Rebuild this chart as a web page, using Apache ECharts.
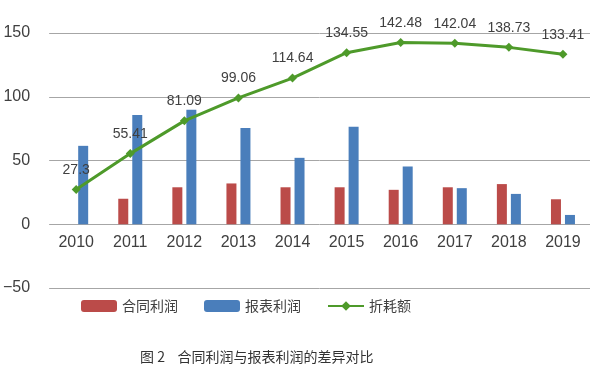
<!DOCTYPE html>
<html>
<head>
<meta charset="utf-8">
<script src="https://cdn.jsdelivr.net/npm/echarts@6/dist/echarts.min.js"></script>
<style>html,body{margin:0;padding:0;background:#fff;}#c{width:600px;height:365px;}</style>
</head>
<body>
<div id="c"></div>
<script>
const categories = ['2010','2011','2012','2013','2014','2015','2016','2017','2018','2019'];
const contractProfit = [0, 20, 29, 32, 29, 29, 27, 29, 31.5, 19.6];
const reportProfit = [61.5, 85.6, 89.8, 75.4, 52.1, 76.4, 45.3, 28.3, 23.8, 7.3];
const depletion = [27.3, 55.41, 81.09, 99.06, 114.64, 134.55, 142.48, 142.04, 138.73, 133.41];
const seriesNames = ['合同利润', '报表利润', '折耗额'];
const titleText = '图 2    合同利润与报表利润的差异对比';

const chart = echarts.init(document.getElementById('c'), null, {renderer: 'canvas'});
const latin = 'Liberation Sans, Arial, sans-serif';
const cjk = '"Noto Sans CJK SC", sans-serif';
chart.setOption({
  animation: false,
  backgroundColor: '#fff',
  title: {
    text: titleText, left: 135, top: 345,
    textStyle: {fontFamily: cjk, fontSize: 14, fontWeight: 'normal', color: '#333'}
  },
  legend: {
    data: seriesNames, left: 76, top: 294,
    itemWidth: 36, itemHeight: 12, itemGap: 26,
    textStyle: {fontFamily: cjk, fontSize: 14, color: '#404040'}
  },
  grid: {left: 49, right: 10, top: 33, bottom: 77},
  xAxis: {
    type: 'category', data: categories,
    position: 'bottom', offset: -64,
    axisLine: {show: false, onZero: false},
    axisTick: {show: false},
    axisLabel: {margin: 11, fontFamily: latin, fontSize: 16, color: '#404040'}
  },
  yAxis: {
    type: 'value', min: -50, max: 150, interval: 50,
    axisLine: {show: false}, axisTick: {show: false},
    axisLabel: {margin: 19, fontFamily: latin, fontSize: 16, color: '#404040',
      formatter: function (v) { return String(v).replace('-', '\u2212'); }},
    splitLine: {lineStyle: {color: '#a6a6a6', width: 1}}
  },
  series: [
    {name: seriesNames[0], type: 'bar', data: contractProfit, barWidth: 10, barGap: '40%',
     itemStyle: {color: '#bb4b49'}},
    {name: seriesNames[1], type: 'bar', data: reportProfit, barWidth: 10,
     itemStyle: {color: '#4a7ebb'}},
    {name: seriesNames[2], type: 'line', data: depletion, symbol: 'diamond', symbolSize: 9,
     lineStyle: {color: '#4e9a2a', width: 3}, itemStyle: {color: '#4e9a2a'},
     label: {show: true, position: 'top', distance: 8, fontFamily: latin, fontSize: 14, color: '#404040'},
     z: 3}
  ]
});
</script>
</body>
</html>
